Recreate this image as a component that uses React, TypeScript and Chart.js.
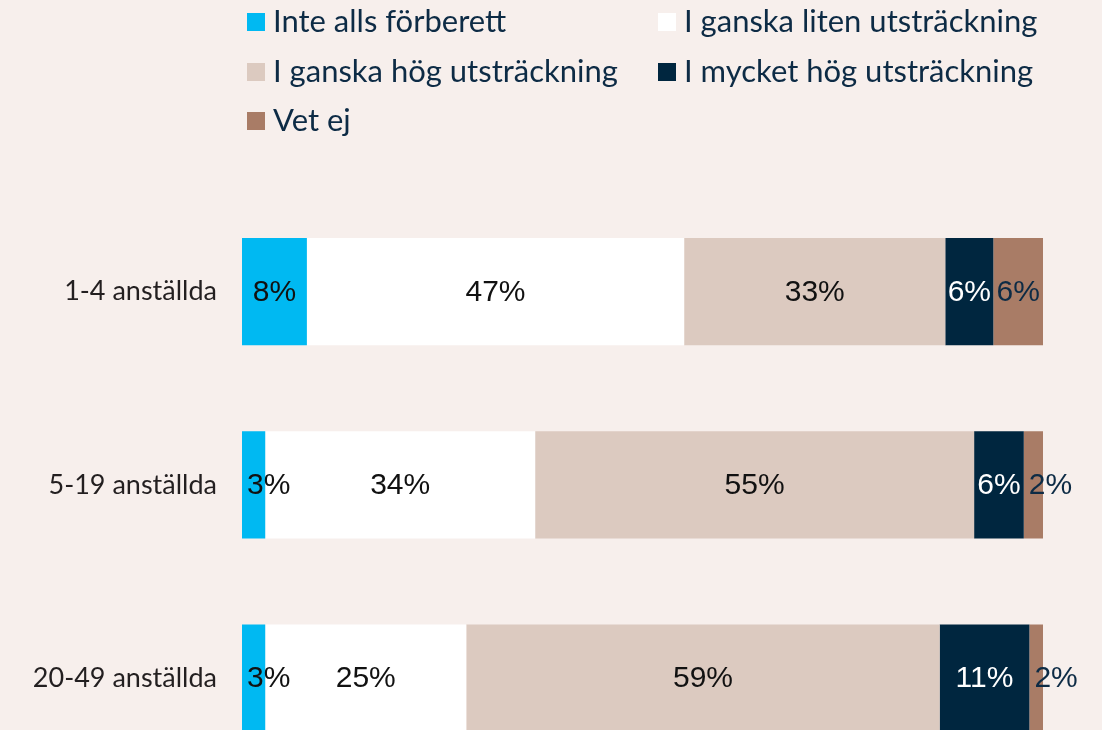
import React, { useEffect, useRef } from "react";
import { Chart, registerables } from "chart.js";

Chart.register(...registerables);

const categories = ["1-4 anställda", "5-19 anställda", "20-49 anställda"];
const seriesNames = [
  "Inte alls förberett",
  "I ganska liten utsträckning",
  "I ganska hög utsträckning",
  "I mycket hög utsträckning",
  "Vet ej",
];
const inteAlls = [8.1, 2.9, 2.9];
const litenUtstr = [47.1, 33.7, 25.1];
const hogUtstr = [32.6, 54.8, 59.1];
const mycketHog = [6.0, 6.2, 11.2];
const vetEj = [6.2, 2.4, 1.7];
const seriesValues = [inteAlls, litenUtstr, hogUtstr, mycketHog, vetEj];
const seriesColors = ["#00b9f2", "#ffffff", "#dccac0", "#00263f", "#a97c66"];
const labelColors = ["#111111", "#111111", "#111111", "#ffffff", "#0d2b45"];

const BG = "#f7efec";

const gridLegend = {
  id: "gridLegend",
  afterDraw(chart: any) {
    const ctx = chart.ctx;
    ctx.save();
    const colX = [247, 658];
    const rowY = [22, 72, 121];
    ctx.font = "31px Lato";
    ctx.textBaseline = "middle";
    ctx.textAlign = "left";
    chart.data.datasets.forEach((ds: any, i: number) => {
      const c = i % 2;
      const r = Math.floor(i / 2);
      const x = colX[c];
      const y = rowY[r];
      ctx.fillStyle = ds.backgroundColor;
      ctx.fillRect(x, y - 9, 18, 18);
      ctx.fillStyle = "#0d2b45";
      ctx.fillText(ds.label, x + 26, y);
    });
    ctx.restore();
  },
};

const segLabels = {
  id: "segLabels",
  afterDatasetsDraw(chart: any) {
    const ctx = chart.ctx;
    ctx.save();
    ctx.font = "30px 'Liberation Sans', Arial, sans-serif";
    ctx.textBaseline = "middle";
    chart.data.datasets.forEach((ds: any, i: number) => {
      const meta = chart.getDatasetMeta(i);
      meta.data.forEach((el: any, j: number) => {
        const v = ds.data[j];
        const text = Math.round(v) + "%";
        const w = ctx.measureText(text).width;
        const start = Math.min(el.base, el.x);
        const width = Math.abs(el.x - el.base);
        ctx.fillStyle = labelColors[i];
        if (w + 4 > width) {
          ctx.textAlign = "left";
          ctx.fillText(text, start + 5, el.y + 1);
        } else {
          ctx.textAlign = "center";
          ctx.fillText(text, start + width / 2, el.y + 1);
        }
      });
    });
    ctx.restore();
  },
};

export default function App() {
  const ref = useRef<HTMLCanvasElement | null>(null);
  useEffect(() => {
    document.body.style.margin = "0";
    document.body.style.background = BG;
    const canvas = ref.current!;
    const chart = new Chart(canvas, {
      type: "bar",
      data: {
        labels: categories,
        datasets: seriesNames.map((name, i) => ({
          label: name,
          data: seriesValues[i],
          backgroundColor: seriesColors[i],
          borderWidth: 0,
          barPercentage: 0.555,
          categoryPercentage: 1,
        })),
      },
      options: {
        indexAxis: "y",
        responsive: false,
        animation: false,
        layout: { padding: { top: 195, right: 59, bottom: 11, left: 0 } },
        plugins: {
          legend: { display: false },
          tooltip: { enabled: false },
        },
        scales: {
          x: {
            stacked: true,
            min: 0,
            max: 100,
            display: false,
          },
          y: {
            stacked: true,
            grid: { display: false },
            border: { display: false },
            ticks: {
              padding: 17,
              color: "#231f20",
              font: { family: "Lato", size: 27 },
            },
            afterFit(scale: any) {
              scale.width = 242;
            },
          },
        },
      },
      plugins: [gridLegend, segLabels],
    });
    return () => chart.destroy();
  }, []);
  return (
    <div style={{ width: 1102, height: 730, overflow: "hidden", background: BG }}>
      <canvas ref={ref} width={1102} height={808} style={{ display: "block" }} />
    </div>
  );
}
